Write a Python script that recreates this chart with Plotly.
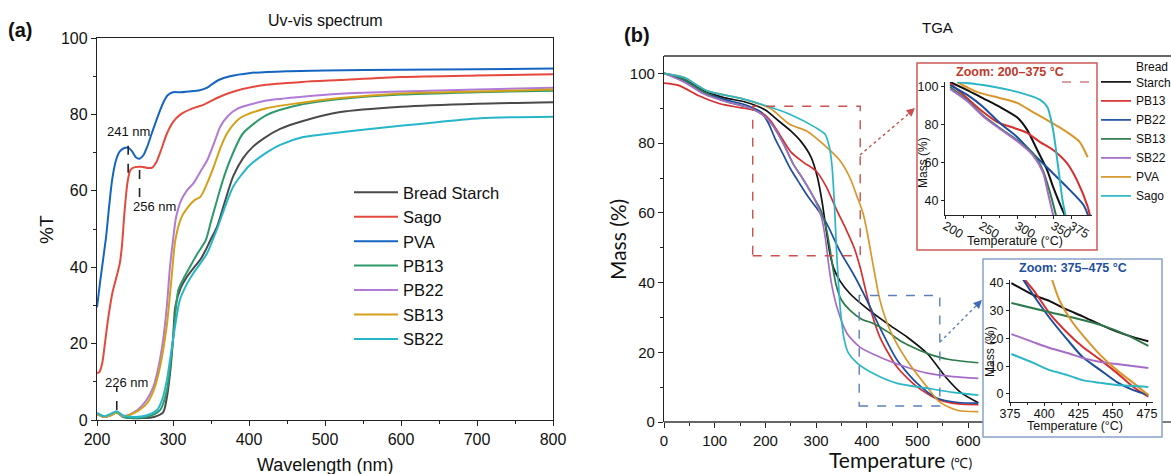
import plotly.graph_objects as go

W, H = 1171, 474
def px(x):
    return x / W
def py(y):
    return 1 - y / H

# ---------------- UV-vis data (wavelength nm, %T) ----------------
uv_names = ["Bread Starch", "Sago", "PVA", "PB13", "PB22", "SB13", "SB22"]
uv_colors = ["#4a4a4a", "#e5483c", "#1565c0", "#2e9a6a", "#b07ad6", "#d4a017", "#27b6c9"]

bread_wl = [200, 210, 218, 226, 234, 245, 260, 275, 287, 292, 296, 300, 303, 310, 318, 328, 336, 343, 349, 358, 368, 379, 392, 405, 420, 441, 470, 520, 600, 700, 800]
bread_T  = [1.6, 0.8, 1.3, 2.0, 1.0, 0.5, 0.5, 0.8, 2.0, 6.0, 12.0, 21.0, 29.6, 34.5, 37.4, 40.0, 42.0, 44.5, 47.0, 50.6, 57.0, 63.7, 68.5, 71.5, 73.8, 76.2, 78.2, 80.6, 82.0, 82.8, 83.2]

sago_wl = [200, 203, 207, 211, 215, 220, 225, 230, 233, 236, 240, 244, 250, 258, 266, 272, 278, 284, 292, 300, 310, 325, 340, 360, 380, 420, 470, 520, 600, 700, 800]
sago_T  = [12.3, 12.5, 15.0, 21.0, 27.0, 33.0, 37.0, 41.0, 46.0, 54.0, 62.0, 65.5, 66.2, 66.3, 66.0, 66.0, 67.5, 70.5, 75.0, 78.0, 80.0, 81.5, 82.5, 84.5, 86.0, 87.7, 88.5, 89.0, 89.8, 90.2, 90.5]

pva_wl = [200, 204, 208, 212, 216, 220, 225, 230, 236, 241, 246, 251, 256, 261, 266, 272, 280, 287, 293, 300, 310, 320, 335, 345, 352, 360, 375, 400, 450, 500, 600, 700, 800]
pva_T  = [29.5, 36.0, 42.0, 48.0, 56.0, 63.0, 68.0, 70.3, 71.2, 71.3, 70.4, 68.8, 68.4, 69.3, 71.5, 75.0, 79.5, 83.0, 85.0, 85.8, 85.8, 86.0, 86.3, 87.0, 88.0, 89.0, 90.0, 90.8, 91.3, 91.5, 91.7, 91.8, 92.0]

pb13_wl = [200, 210, 218, 226, 234, 250, 265, 275, 283, 292, 300, 307, 315, 322, 332, 343, 350, 358, 366, 375, 392, 423, 467, 520, 600, 700, 800]
pb13_T  = [1.8, 0.8, 1.3, 1.9, 0.8, 0.5, 0.8, 1.5, 2.6, 7.8, 21.0, 34.0, 37.5, 40.0, 43.5, 47.0, 52.0, 57.6, 63.0, 68.0, 75.0, 79.8, 82.5, 84.0, 85.2, 85.8, 86.2]

pb22_wl = [200, 210, 218, 226, 232, 240, 250, 258, 266, 274, 280, 287, 292, 296, 300, 304, 311, 318, 327, 336, 345, 355, 362, 372, 385, 420, 470, 520, 600, 700, 800]
pb22_T  = [1.5, 0.8, 1.2, 2.0, 1.2, 1.2, 2.2, 3.5, 5.5, 8.6, 13.0, 21.0, 30.0, 40.0, 47.0, 53.0, 57.6, 60.0, 62.0, 65.0, 68.0, 73.0, 76.7, 79.5, 81.5, 83.5, 84.6, 85.4, 86.0, 86.5, 87.0]

sb13_wl = [200, 210, 218, 226, 235, 245, 255, 266, 275, 283, 292, 298, 303, 311, 320, 328, 336, 345, 353, 362, 371, 388, 423, 467, 520, 600, 700, 800]
sb13_T  = [1.5, 0.8, 1.2, 2.0, 1.0, 1.5, 2.5, 4.4, 8.0, 14.0, 25.0, 37.0, 47.0, 53.0, 55.8, 57.5, 58.4, 62.0, 66.0, 71.0, 75.0, 79.0, 81.6, 83.0, 84.3, 85.5, 86.0, 86.5]

sb22_wl = [200, 210, 218, 226, 234, 250, 265, 279, 286, 292, 300, 309, 318, 327, 336, 345, 358, 379, 400, 423, 441, 470, 507, 550, 599, 650, 704, 800]
sb22_T  = [1.8, 1.0, 1.6, 2.3, 1.2, 0.8, 1.2, 2.6, 5.5, 10.5, 21.0, 31.4, 35.5, 38.5, 41.0, 43.7, 50.0, 61.0, 66.5, 70.0, 72.0, 74.0, 75.0, 76.0, 77.0, 78.0, 79.0, 79.4]

uv_wl = [bread_wl, sago_wl, pva_wl, pb13_wl, pb22_wl, sb13_wl, sb22_wl]
uv_T = [bread_T, sago_T, pva_T, pb13_T, pb22_T, sb13_T, sb22_T]

# ---------------- TGA data (temperature degC, mass %) ----------------
tga_names = ["Bread<br>Starch", "PB13", "PB22", "SB13", "SB22", "PVA", "Sago"]
tga_colors = ["#111111", "#d62f2f", "#1d4e9e", "#2c7a4b", "#a56cc8", "#d9962b", "#2bb6c6"]

bs_temp = [0, 40, 80, 120, 160, 200, 225, 250, 270, 290, 303, 312, 320, 327, 335, 347, 367, 400, 440, 480, 520, 555, 585, 620]
bs_mass = [100, 98.5, 95, 93, 91.8, 89.5, 86.5, 83.5, 80.5, 76, 70, 63, 55, 48.5, 44, 40.5, 36.8, 32.6, 28.3, 24.3, 19.5, 13, 8.5, 5.5]

pb13_temp = [0, 30, 70, 110, 150, 190, 210, 230, 250, 275, 300, 320, 340, 360, 375, 387, 406, 426, 460, 500, 540, 580, 620]
pb13_mass = [97.2, 96.5, 93.5, 91.3, 90.2, 89, 86.5, 82, 77.5, 74.5, 72, 67.5, 61, 55, 50, 44.3, 33, 24.3, 15.7, 10, 6.5, 5.2, 5.0]

pb22_temp = [0, 40, 80, 120, 160, 190, 205, 220, 235, 250, 268, 285, 301, 321, 347, 373, 400, 426, 460, 500, 538, 580, 620]
pb22_mass = [100, 98, 94.5, 92.5, 91, 89, 86, 81, 76.8, 72.5, 68.3, 64.5, 61.4, 56.9, 49, 42.6, 35, 27, 17.7, 11, 6.9, 5.6, 5.4]

sb13_temp = [0, 40, 80, 120, 160, 185, 200, 215, 235, 255, 275, 295, 310, 321, 327, 333, 340, 350, 367, 390, 412, 440, 465, 490, 519, 560, 620]
sb13_mass = [100, 98.2, 94.5, 92, 90.5, 89, 87.5, 85, 80, 74, 69.5, 64.5, 60.5, 54.9, 50, 44.3, 39, 35, 32, 29.5, 28.3, 26, 23.4, 21.5, 19.7, 18, 17]

sb22_temp = [0, 40, 80, 120, 160, 185, 200, 215, 235, 255, 275, 295, 310, 318, 324, 330, 341, 361, 387, 426, 479, 519, 570, 620]
sb22_mass = [100, 97.5, 94, 92, 90.5, 89, 87.5, 85, 80, 74, 69.5, 64.5, 59, 53, 46, 40, 33, 25.4, 21.4, 18.6, 15.7, 14, 13, 12.5]

pva_temp = [0, 40, 85, 150, 209, 248, 282, 314, 347, 367, 380, 393, 400, 412, 426, 446, 479, 519, 544, 580, 620]
pva_mass = [100, 98.8, 95, 92.9, 90, 85.4, 83.4, 79.7, 75, 70, 65, 59.7, 55, 45.4, 34.9, 26.3, 17.7, 10, 5.7, 3.3, 3.0]

sago_temp = [0, 40, 85, 150, 195, 248, 301, 318, 326, 331, 336, 340, 344, 348, 355, 363, 381, 412, 460, 519, 570, 620]
sago_mass = [100, 98.8, 95, 92.9, 91, 88.3, 84.3, 82.5, 79, 74, 63, 50, 40, 32, 24, 20, 16.9, 14, 11.1, 9.7, 8.5, 7.7]

tga_temp = [bs_temp, pb13_temp, pb22_temp, sb13_temp, sb22_temp, pva_temp, sago_temp]
tga_mass = [bs_mass, pb13_mass, pb22_mass, sb13_mass, sb22_mass, pva_mass, sago_mass]

# Zoom 200-375 inset
z1_temp = [
    [207, 230, 253, 276, 300, 314, 328, 342, 350, 361, 368],
    [207, 231, 253, 272, 296, 314, 332, 350, 369, 383, 398, 402],
    [207, 231, 253, 276, 300, 322, 346, 369, 392, 400],
    [207, 231, 253, 276, 300, 322, 336, 346, 355],
    [207, 231, 253, 276, 300, 322, 336, 343, 351],
    [217, 244, 276, 300, 322, 346, 369, 387, 398],
    [217, 253, 300, 332, 342, 350, 357, 363, 368],
]
z1_mass = [
    [102.6, 98.5, 94, 89.5, 84, 77.4, 66.8, 56, 47.4, 37, 31],
    [102, 94, 86.8, 81.6, 78.4, 75.8, 71, 66.8, 60, 51, 37, 31],
    [101, 95.8, 89.5, 81, 73.7, 65, 56, 47.4, 38, 31],
    [100, 93, 85, 78.4, 72, 65, 56, 44, 31],
    [99, 92.5, 84.5, 78, 71.5, 64, 55, 44, 31],
    [102.6, 97.4, 94.2, 91.6, 86.8, 81.6, 76.3, 71, 63],
    [102.6, 101, 97.4, 93.2, 89.5, 77.4, 58, 40.5, 31],
]

# Zoom 375-475 inset
z2_temp = [
    [376, 392, 404, 417, 428, 441, 453, 465, 476],
    [381, 392, 404, 417, 428, 441, 453, 465, 476],
    [381, 392, 404, 417, 428, 441, 453, 465, 476],
    [376, 404, 428, 441, 460, 476],
    [376, 392, 404, 417, 428, 441, 453, 476],
    [404, 411, 421, 431, 441, 453, 465, 476],
    [376, 392, 404, 417, 428, 441, 453, 476],
]
z2_mass = [
    [40, 35.7, 33.5, 30.3, 28, 25, 22.5, 20.5, 19],
    [44, 37.5, 29, 22, 17, 12.3, 7.6, 2.5, -1],
    [44, 35.7, 27.4, 19.5, 13.3, 8.6, 4.3, 1.4, -0.4],
    [32.8, 29.5, 26.7, 24.9, 21.3, 17.3],
    [21.6, 18.7, 16.6, 14.8, 13, 11.5, 10.8, 9.4],
    [44, 33.9, 25.6, 19.5, 14, 8.6, 4, -0.4],
    [14.4, 11.2, 8.6, 6.8, 5, 4, 3.2, 2.5],
]

fig = go.Figure()

for n, c, x, y in zip(uv_names, uv_colors, uv_wl, uv_T):
    fig.add_trace(go.Scatter(x=x, y=y, name=n, mode="lines", xaxis="x", yaxis="y",
                             line=dict(color=c, width=2, shape="spline", smoothing=0.7),
                             legend="legend"))

for n, c, x, y in zip(tga_names, tga_colors, tga_temp, tga_mass):
    fig.add_trace(go.Scatter(x=x, y=y, name=n, mode="lines", xaxis="x2", yaxis="y2",
                             line=dict(color=c, width=1.7, shape="spline", smoothing=0.7),
                             legend="legend2"))

for n, c, x, y in zip(tga_names, tga_colors, z1_temp, z1_mass):
    fig.add_trace(go.Scatter(x=x, y=y, name=n, mode="lines", xaxis="x3", yaxis="y3",
                             line=dict(color=c, width=2, shape="spline", smoothing=0.7),
                             showlegend=False))

for n, c, x, y in zip(tga_names, tga_colors, z2_temp, z2_mass):
    fig.add_trace(go.Scatter(x=x, y=y, name=n, mode="lines", xaxis="x4", yaxis="y4",
                             line=dict(color=c, width=2, shape="spline", smoothing=0.7),
                             showlegend=False))

FONT = "Liberation Sans, Arial, sans-serif"
ax_base = dict(ticks="outside", showgrid=False, zeroline=False, tickcolor="#222",
               linecolor="#222", automargin=False)

def minor(**kw):
    d = dict(ticks="outside", tickcolor="#222")
    d.update(kw)
    return d

fig.update_layout(
    width=W, height=H, margin=dict(l=0, r=0, t=0, b=0, autoexpand=False),
    paper_bgcolor="white", plot_bgcolor="rgba(0,0,0,0)",
    font=dict(family=FONT, color="#111"),
    xaxis=dict(ax_base, domain=[px(97), px(553)], range=[200, 800], anchor="y", showline=True, mirror=True,
               linewidth=1.3, dtick=100, ticklen=5, tickfont=dict(size=16, family=FONT, color="#111"),
               minor=minor(dtick=50, ticklen=3)),
    yaxis=dict(ax_base, domain=[py(420), py(38)], range=[0, 100], anchor="x", showline=True, mirror=True,
               linewidth=1.3, dtick=20, ticklen=5, tickfont=dict(size=16, family=FONT, color="#111"),
               minor=minor(dtick=10, ticklen=3)),
    xaxis2=dict(ax_base, domain=[px(664), 1], range=[0, 1000], anchor="y2", showline=False,
                tickmode="array", tickvals=[0, 100, 200, 300, 400, 500, 600], ticklen=5,
                tickfont=dict(size=15, family=FONT, color="#111"),
                minor=minor(tickmode="array", tickvals=[50, 150, 250, 350, 450, 550], ticklen=3)),
    yaxis2=dict(ax_base, domain=[py(422), py(56)], range=[0, 105], anchor="x2", showline=True, linewidth=1.3,
                dtick=20, ticklen=5, tickfont=dict(size=15, family=FONT, color="#111"),
                minor=minor(dtick=10, ticklen=3)),
    xaxis3=dict(ax_base, domain=[px(945), px(1092)], range=[200, 404], anchor="y3", showline=True, linewidth=1.2,
                tickmode="array", tickvals=[200, 250, 300, 350, 375], ticklen=3, ticklabelstandoff=-5,
                tickfont=dict(size=12.5, family=FONT, color="#111"),
                minor=minor(tickmode="array", tickvals=[225, 275, 325], ticklen=2)),
    yaxis3=dict(ax_base, domain=[py(215), py(82)], range=[32.6, 102.6], anchor="x3", showline=True, linewidth=1.2,
                tickmode="array", tickvals=[40, 60, 80, 100], ticklen=3,
                tickfont=dict(size=12.5, family=FONT, color="#111")),
    xaxis4=dict(ax_base, domain=[px(1010), px(1153)], range=[375, 479.4], anchor="y4", showline=True, linewidth=1.2,
                tickmode="array", tickvals=[375, 400, 425, 450, 475], ticklen=3, ticklabelstandoff=-3,
                tickfont=dict(size=12.5, family=FONT, color="#111"),
                minor=minor(tickmode="array", tickvals=[387.5, 412.5, 437.5, 462.5], ticklen=2)),
    yaxis4=dict(ax_base, domain=[py(402), py(280)], range=[-2.9, 41.1], anchor="x4", showline=True, linewidth=1.2,
                tickmode="array", tickvals=[0, 10, 20, 30, 40], ticklen=3,
                tickfont=dict(size=12.5, family=FONT, color="#111")),
    legend=dict(x=px(349), y=py(175), xanchor="left", yanchor="top", bgcolor="rgba(0,0,0,0)",
                font=dict(size=16.5, family=FONT, color="#111"), tracegroupgap=0, itemwidth=44),
    legend2=dict(x=px(1096), y=py(52), xanchor="left", yanchor="top", bgcolor="rgba(0,0,0,0)",
                 font=dict(size=12, family=FONT, color="#111"), tracegroupgap=0, itemwidth=30,
                 valign="bottom"),
)

shapes = []
# main TGA frame (drawn as shapes so it can pass behind the inset)
fr = dict(type="line", xref="paper", yref="paper", line=dict(color="#333", width=1.3), layer="below")
shapes.append(dict(fr, x0=px(664), x1=px(983), y0=py(422), y1=py(422)))
shapes.append(dict(fr, x0=px(1162), x1=1, y0=py(422), y1=py(422)))
shapes.append(dict(fr, x0=px(664), x1=1, y0=py(56), y1=py(56)))
# inset boxes
shapes.append(dict(type="rect", xref="paper", yref="paper", x0=px(917), x1=px(1097), y0=py(250), y1=py(63),
                   line=dict(color="#cc5a5a", width=1.5), fillcolor="white", layer="below"))
shapes.append(dict(type="rect", xref="paper", yref="paper", x0=px(983), x1=px(1162), y0=py(437), y1=py(259),
                   line=dict(color="#86a3cc", width=1.5), fillcolor="white", layer="below"))
# dashed region markers in main TGA
shapes.append(dict(type="rect", xref="x2", yref="y2", x0=175, x1=387, y0=47.7, y1=90.6,
                   line=dict(color="#c9504c", width=1.4, dash="dash")))
shapes.append(dict(type="rect", xref="x2", yref="y2", x0=385, x1=544, y0=4.6, y1=36.3,
                   line=dict(color="#5b80bb", width=1.4, dash="dash")))
# dashed connectors
shapes.append(dict(type="line", xref="paper", yref="paper", x0=px(860), y0=py(155), x1=px(912), y1=py(111),
                   line=dict(color="#c9504c", width=1.4, dash="dot")))
shapes.append(dict(type="line", xref="paper", yref="paper", x0=px(940), y0=py(342), x1=px(979), y1=py(303),
                   line=dict(color="#5b80bb", width=1.4, dash="dot")))
# dashed top reference in zoom inset 1
shapes.append(dict(type="line", xref="paper", yref="paper", x0=px(1062), x1=px(1096), y0=py(82), y1=py(82),
                   line=dict(color="#d08080", width=1.3, dash="dash")))
# peak markers (UV-vis)
for wl, y0, y1 in [(241, 64.7, 73.8), (256, 58.4, 67.3), (226, 2.6, 8.6)]:
    shapes.append(dict(type="line", xref="x", yref="y", x0=wl, x1=wl, y0=y0, y1=y1,
                       line=dict(color="#222", width=1.6, dash="dash")))
fig.update_layout(shapes=shapes)

ann = []
def txt(x, y, s, size, **kw):
    d = dict(x=px(x), y=py(y), xref="paper", yref="paper", text=s, showarrow=False,
             font=dict(size=size, family=kw.pop("family", FONT), color=kw.pop("color", "#111")),
             xanchor=kw.pop("xanchor", "center"), yanchor=kw.pop("yanchor", "middle"))
    d.update(kw)
    ann.append(d)

txt(20, 30, "<b>(a)</b>", 20)
txt(325, 20, "Uv-vis spectrum", 16)
txt(46, 230, "%T", 19, textangle=-90)
txt(325, 465, "Wavelength (nm)", 18)
txt(128, 132, "241 nm", 13)
txt(154, 206, "256 nm", 13)
txt(126, 382, "226 nm", 13)

txt(637, 35, "<b>(b)</b>", 20)
txt(937, 28, "TGA", 15)
txt(617, 240, "Mass (%)", 21, textangle=-90, family="Lato, sans-serif")
txt(900, 459, "Temperature <span style='font-size:14px'>(℃)</span>", 21, family="Lato, sans-serif")

txt(1010, 72, "<b>Zoom: 200–375 °C</b>", 12.5, color="#c0392b")
txt(1015, 241, "Temperature (°C)", 12.5)
txt(923, 163, "Mass (%)", 12, textangle=-90)
txt(1073, 268, "<b>Zoom: 375–475 °C</b>", 12.5, color="#1f4fa0")
txt(1075, 426, "Temperature (°C)", 12.5)
txt(990, 352, "Mass (%)", 12, textangle=-90)

# arrowheads
ann.append(dict(x=px(915), y=py(108), xref="paper", yref="paper", text="", showarrow=True,
                arrowhead=2, arrowsize=1.2, arrowwidth=1.4, arrowcolor="#c9504c", ax=-8, ay=7))
ann.append(dict(x=px(982), y=py(300), xref="paper", yref="paper", text="", showarrow=True,
                arrowhead=2, arrowsize=1.2, arrowwidth=1.4, arrowcolor="#3f6cb5", ax=-7, ay=7))
fig.update_layout(annotations=ann)

fig.write_html("out.html")
